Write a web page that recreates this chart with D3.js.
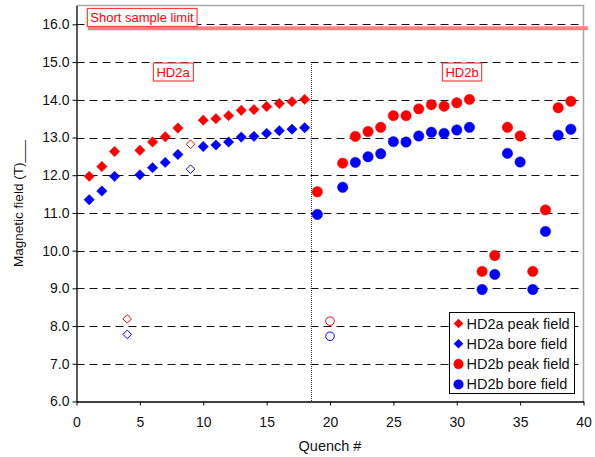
<!DOCTYPE html>
<html>
<head>
<meta charset="utf-8">
<script src="https://cdn.jsdelivr.net/npm/d3@7"></script>
<style>
  body { margin: 0; background: #fff; }
  text { font-family: Arial, "Liberation Sans", sans-serif; }
</style>
</head>
<body>
<svg width="595" height="457"></svg>
<script>
// HD2a (diamonds) and HD2b (circles), filled = quench, open = outliers
var hd2aQuench = [1, 2, 3, 5, 6, 7, 8, 10, 11, 12, 13, 14, 15, 16, 17, 18];
var hd2aPeak   = [11.97, 12.23, 12.63, 12.66, 12.88, 13.02, 13.25, 13.46, 13.50, 13.58, 13.72, 13.74, 13.82, 13.90, 13.95, 14.01];
var hd2aBore   = [11.35, 11.58, 11.97, 12.01, 12.20, 12.34, 12.55, 12.76, 12.80, 12.88, 13.01, 13.03, 13.11, 13.18, 13.22, 13.26];
var hd2aOpenQuench = [4, 9];
var hd2aOpenPeak   = [8.19, 12.82];
var hd2aOpenBore   = [7.78, 12.16];

var hd2bQuench = [19, 21, 22, 23, 24, 25, 26, 27, 28, 29, 30, 31, 32, 33, 34, 35, 36, 37, 38, 39];
var hd2bPeak   = [11.56, 12.32, 13.03, 13.16, 13.27, 13.58, 13.58, 13.76, 13.87, 13.83, 13.92, 14.01, 9.45, 9.87, 13.27, 13.04, 9.45, 11.08, 13.79, 13.96];
var hd2bBore   = [10.96, 11.68, 12.34, 12.49, 12.57, 12.89, 12.88, 13.04, 13.14, 13.11, 13.20, 13.27, 8.97, 9.37, 12.58, 12.35, 8.97, 10.51, 13.06, 13.22];
var hd2bOpenQuench = [20];
var hd2bOpenPeak   = [8.13];
var hd2bOpenBore   = [7.73];

var xTicks = [0, 5, 10, 15, 20, 25, 30, 35, 40];
var yTicks = [6, 7, 8, 9, 10, 11, 12, 13, 14, 15, 16];
var shortSampleLimit = 15.9;
var magnetSplit = 18.5;
var legendItems = ["HD2a peak field", "HD2a bore field", "HD2b peak field", "HD2b bore field"];

var svg = d3.select("svg");
var pLeft = 76.5, pRight = 583.5, pTop = 5.5, pBottom = 401.5;

var x = d3.scaleLinear().domain([0, 40]).range([pLeft, pRight]);
var y = d3.scaleLinear().domain([6, 16.5]).range([pBottom, pTop]);

// grid
svg.append("g").selectAll("line")
  .data(yTicks.filter(function(d) { return d > 6; }))
  .enter().append("line")
  .attr("x1", pLeft).attr("x2", pRight)
  .attr("y1", function(d) { return Math.round(y(d)) + 0.5; })
  .attr("y2", function(d) { return Math.round(y(d)) + 0.5; })
  .attr("stroke", "#111")
  .attr("stroke-dasharray", "8,5");

// frame top / right
svg.append("path")
  .attr("d", "M" + pLeft + "," + pTop + "H" + pRight + "V" + pBottom)
  .attr("fill", "none")
  .attr("stroke", "#a8a8a8")
  .attr("stroke-width", 1.5);

// short sample line
svg.append("line")
  .attr("x1", x(0.9)).attr("x2", x(40.35))
  .attr("y1", y(shortSampleLimit)).attr("y2", y(shortSampleLimit))
  .attr("stroke", "#ff8080")
  .attr("stroke-width", 4);

// dotted split line
svg.append("line")
  .attr("x1", Math.round(x(magnetSplit)) + 0.5).attr("x2", Math.round(x(magnetSplit)) + 0.5)
  .attr("y1", y(15)).attr("y2", pBottom)
  .attr("stroke", "#333")
  .attr("stroke-dasharray", "1,1");

// axes
var xAxis = d3.axisBottom(x).tickValues(xTicks).tickSize(4).tickSizeOuter(0).tickFormat(d3.format("d"));
var yAxis = d3.axisLeft(y).tickValues(yTicks).tickSize(4).tickSizeOuter(0).tickFormat(d3.format(".1f"));

var gx = svg.append("g").attr("transform", "translate(0," + pBottom + ")").call(xAxis);
var gy = svg.append("g").attr("transform", "translate(" + pLeft + ",0)").call(yAxis);
[gx, gy].forEach(function(g) {
  g.select(".domain").attr("stroke", "#000").attr("stroke-width", 1.3);
  g.selectAll(".tick line").attr("stroke", "#000");
  g.selectAll(".tick text").attr("font-size", 14).attr("fill", "#111")
    .attr("font-family", "Arial, 'Liberation Sans', sans-serif");
});
gx.selectAll(".tick text").attr("dy", "1.3em");
gy.selectAll(".tick text").attr("x", -7);

// axis titles
svg.append("text")
  .attr("x", (pLeft + pRight) / 2).attr("y", 451)
  .attr("text-anchor", "middle").attr("font-size", 14.5).attr("fill", "#111")
  .text("Quench #");
svg.append("text")
  .attr("transform", "translate(23," + ((pTop + pBottom) / 2) + ") rotate(-90)")
  .attr("text-anchor", "middle").attr("font-size", 13.5).attr("fill", "#111")
  .text("Magnetic field (T)___");

// labelled boxes
function boxLabel(txt, cx, cy, fs) {
  var t = svg.append("text").attr("x", cx).attr("y", cy)
    .attr("font-size", fs).attr("fill", "#ff0000")
    .attr("text-anchor", "middle").attr("dominant-baseline", "central").text(txt);
  var b = t.node().getBBox();
  svg.insert("rect", function() { return t.node(); })
    .attr("x", b.x - 3).attr("y", cy - 9).attr("width", b.width + 6).attr("height", 18)
    .attr("fill", "#fff").attr("stroke", "#ff4040").attr("stroke-width", 1.2);
}
boxLabel("Short sample limit", 142, 17.5, 13);
boxLabel("HD2a", 173, 72, 13);
boxLabel("HD2b", 462, 72, 13);

// markers
function diamondPath(h) {
  return "M0," + (-h) + "L" + h + ",0L0," + h + "L" + (-h) + ",0Z";
}
function diamonds(xs, ys, color, filled, h) {
  svg.append("g").selectAll("path")
    .data(xs.map(function(q, i) { return [q, ys[i]]; }))
    .enter().append("path")
    .attr("d", diamondPath(h))
    .attr("transform", function(d) { return "translate(" + x(d[0]) + "," + y(d[1]) + ")"; })
    .attr("fill", filled ? color : "#fff")
    .attr("stroke", color)
    .attr("stroke-width", filled ? 0.5 : 1);
}
function circles(xs, ys, color, filled, r) {
  svg.append("g").selectAll("circle")
    .data(xs.map(function(q, i) { return [q, ys[i]]; }))
    .enter().append("circle")
    .attr("cx", function(d) { return x(d[0]); })
    .attr("cy", function(d) { return y(d[1]); })
    .attr("r", r)
    .attr("fill", filled ? color : "#fff")
    .attr("stroke", color)
    .attr("stroke-width", filled ? 0.5 : 1);
}
diamonds(hd2aQuench, hd2aPeak, "#ff0000", true, 5.2);
diamonds(hd2aQuench, hd2aBore, "#0000ff", true, 5.2);
diamonds(hd2aOpenQuench, hd2aOpenPeak, "#ff0000", false, 4.3);
diamonds(hd2aOpenQuench, hd2aOpenBore, "#0000ff", false, 4.3);
circles(hd2bQuench, hd2bPeak, "#ff0000", true, 5.2);
circles(hd2bQuench, hd2bBore, "#0000ff", true, 5.2);
circles(hd2bOpenQuench, hd2bOpenPeak, "#ff0000", false, 4.3);
circles(hd2bOpenQuench, hd2bOpenBore, "#0000ff", false, 4.3);

// legend
var lg = svg.append("g").attr("transform", "translate(449.5,312.5)");
lg.append("rect").attr("width", 125).attr("height", 81)
  .attr("fill", "#fff").attr("stroke", "#000").attr("stroke-width", 1);
legendItems.forEach(function(name, i) {
  var cy = 11 + i * 20.3;
  var col = i % 2 === 0 ? "#ff0000" : "#0000ff";
  if (i < 2) {
    lg.append("path").attr("d", diamondPath(4.8))
      .attr("transform", "translate(9," + cy + ")").attr("fill", col);
  } else {
    lg.append("circle").attr("cx", 9).attr("cy", cy).attr("r", 5).attr("fill", col);
  }
  lg.append("text").attr("x", 17).attr("y", cy).attr("dominant-baseline", "central")
    .attr("font-size", 14.5).attr("fill", "#111").text(name);
});
</script>
</body>
</html>
